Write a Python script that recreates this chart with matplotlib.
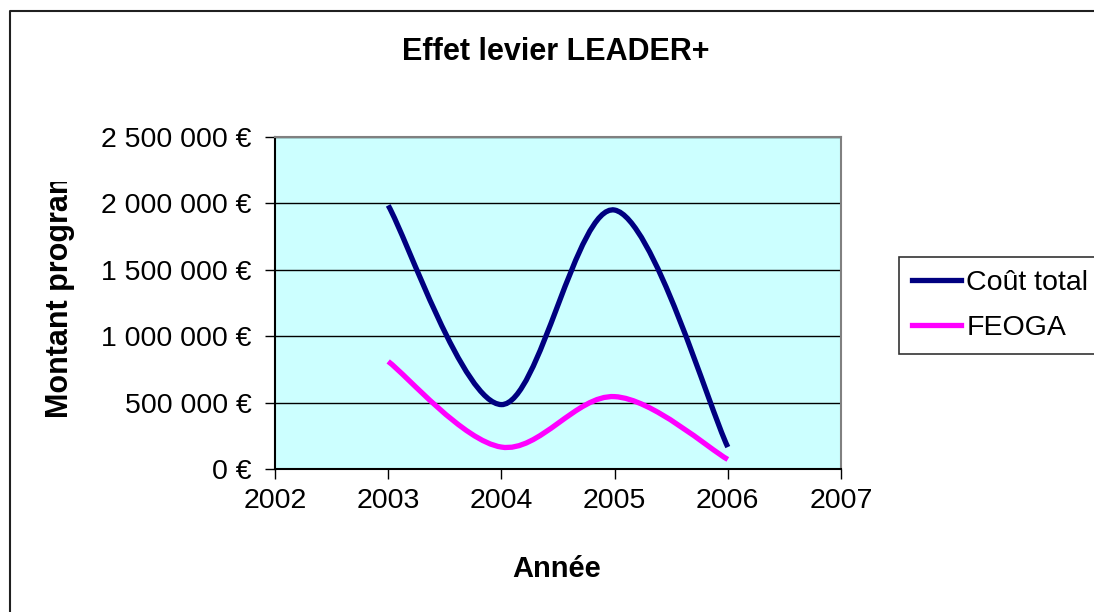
import matplotlib
matplotlib.use("Agg")
import matplotlib.pyplot as plt
from matplotlib.path import Path
from matplotlib.patches import PathPatch
from matplotlib.lines import Line2D
from matplotlib.ticker import FuncFormatter, MultipleLocator
from matplotlib.transforms import Bbox

plt.rcParams['font.family'] = ['Liberation Sans', 'DejaVu Sans']

# data
annees = [2003, 2004, 2005, 2006]
cout_total = [1985000, 485000, 1950000, 165000]
feoga = [810000, 165000, 545000, 72000]
series_labels = ['Coût total', 'FEOGA']
series_colors = ['#000080', '#FF00FF']


def smooth_path(xs, ys):
    # Excel-style smoothed line: cubic Bezier segments (Catmull-Rom tangents)
    pts = list(zip(xs, ys))
    verts = [pts[0]]
    codes = [Path.MOVETO]
    n = len(pts)
    for i in range(n - 1):
        p0 = pts[max(i - 1, 0)]
        p1 = pts[i]
        p2 = pts[i + 1]
        p3 = pts[min(i + 2, n - 1)]
        c1 = (p1[0] + (p2[0] - p0[0]) / 6, p1[1] + (p2[1] - p0[1]) / 6)
        c2 = (p2[0] - (p3[0] - p1[0]) / 6, p2[1] - (p3[1] - p1[1]) / 6)
        verts += [c1, c2, p2]
        codes += [Path.CURVE4] * 3
    return Path(verts, codes)


def euro(v, pos):
    s = f'{int(round(v)):,}'.replace(',', ' ')
    return s + ' €'


W, H = 1094, 612
fig = plt.figure(figsize=(W / 100, H / 100), dpi=100)
fig.patch.set_facecolor('white')

# chart frame: only the left and top edges fall inside the image
fig.add_artist(Line2D([9.5 / W, 9.5 / W, 1.05], [-0.05, 1 - 11 / H, 1 - 11 / H],
                      transform=fig.transFigure, color='#202020', lw=1.5))

ax = fig.add_axes([275 / W, (H - 469) / H, (841 - 275) / W, (469 - 137) / H])
ax.set_facecolor('#CCFFFF')

for ys, col in zip([cout_total, feoga], series_colors):
    ax.add_patch(PathPatch(smooth_path(annees, ys), facecolor='none',
                           edgecolor=col, lw=3.8, capstyle='butt'))

ax.set_xlim(2002, 2007)
ax.set_ylim(0, 2500000)
ax.xaxis.set_major_locator(MultipleLocator(1))
ax.yaxis.set_major_locator(MultipleLocator(500000))
ax.yaxis.set_major_formatter(FuncFormatter(euro))
ax.grid(axis='y', color='black', lw=1)
ax.set_axisbelow(True)

ax.tick_params(axis='both', direction='out', length=7, width=1,
               labelsize=20.5, color='black')
ax.tick_params(axis='x', pad=7)
ax.tick_params(axis='y', pad=10)
ax.spines['left'].set_color('black')
ax.spines['bottom'].set_color('black')
ax.spines['top'].set_color('#808080')
ax.spines['right'].set_color('#808080')
for s in ax.spines.values():
    s.set_linewidth(1.5)

fig.text(556 / W, 1 - 52 / H, 'Effet levier LEADER+', fontsize=22,
         fontweight='bold', ha='center', va='center')
fig.text(557 / W, 1 - 569 / H, 'Année', fontsize=21,
         fontweight='bold', ha='center', va='center')

ylab = fig.text(68 / W, (H - 418) / H, 'Montant programmé', fontsize=22,
                fontweight='bold', rotation=90, rotation_mode='anchor',
                ha='left', va='baseline')
ylab.set_clip_box(Bbox.from_extents(0, 0, W, H - 182))
ylab.set_clip_on(True)

handles = [Line2D([], [], color=c, lw=3.8) for c in series_colors]
leg = fig.legend(handles, series_labels, loc='upper left',
                 bbox_to_anchor=(899 / W, 1 - 257 / H), fontsize=20.5,
                 frameon=True, fancybox=False, shadow=False,
                 borderaxespad=0, borderpad=0.44, handlelength=1.72,
                 handletextpad=0.2, labelspacing=0.7)
leg.get_frame().set_edgecolor('black')
leg.get_frame().set_linewidth(1.2)

fig.savefig('out.png', dpi=100)
